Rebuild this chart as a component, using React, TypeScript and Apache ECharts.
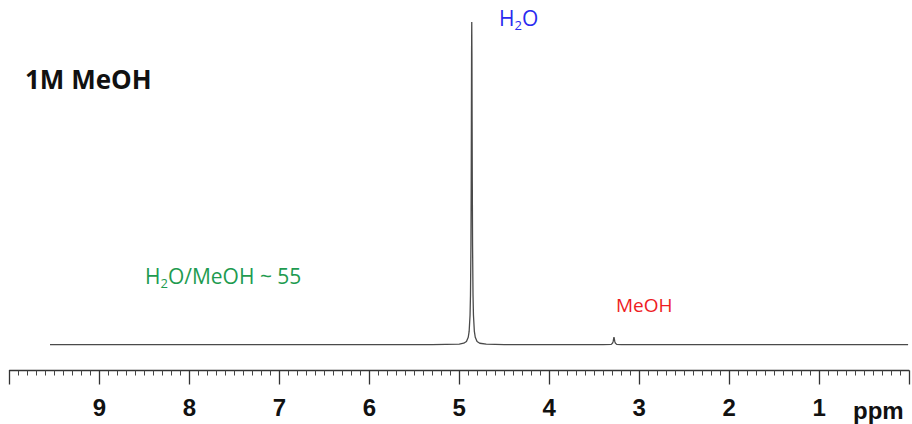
import React, { useEffect, useRef } from "react";
import * as echarts from "echarts";

// Chemical shift (ppm) and intensity (relative, H2O peak = 100)
const shiftPpm = [
  9.55, 5.3, 5.0, 4.95, 4.92, 4.9, 4.89, 4.88, 4.875, 4.87, 4.867, 4.865, 4.863,
  4.861, 4.859, 4.857, 4.855, 4.852, 4.847, 4.842, 4.832, 4.822, 4.802, 4.772,
  4.7, 4.5, 4.0, 3.4, 3.31, 3.295, 3.288, 3.284, 3.28, 3.276, 3.272, 3.265,
  3.25, 3.2, 2.0, 0.01,
];
const intensity = [
  0, 0, 0.2, 0.45, 1.0, 2.3, 4.1, 9.1, 15.5, 31, 50, 69, 90,
  100, 90, 69, 50, 31, 15.5, 9.1, 4.1, 2.3, 1.0, 0.45,
  0.15, 0, 0, 0, 0.1, 0.5, 1.1, 1.8, 2.3, 1.8, 1.1, 0.5,
  0.1, 0, 0, 0,
];
const tickLabels = ["1", "2", "3", "4", "5", "6", "7", "8", "9"];
const axisMin = 0;
const axisMax = 10;

export default function App() {
  const ref = useRef<HTMLDivElement>(null);
  useEffect(() => {
    if (!ref.current) return;
    const chart = echarts.init(ref.current, undefined, { renderer: "svg" });
    const data = shiftPpm.map((x, i) => [x, intensity[i]]);
    const annoFont = "'Open Sans', 'Noto Sans', sans-serif";
    chart.setOption({
      animation: false,
      backgroundColor: "#ffffff",
      grid: { left: 9.5, right: 2, top: 22, bottom: 53.5 },
      xAxis: {
        type: "value",
        min: axisMin,
        max: axisMax,
        interval: 1,
        inverse: true,
        splitLine: { show: false },
        axisLine: { show: true, onZero: false, lineStyle: { color: "#333", width: 1.3 } },
        axisTick: { show: true, length: 14, lineStyle: { color: "#333", width: 1.3 } },
        minorTick: { show: true, splitNumber: 10, length: 5, lineStyle: { color: "#444", width: 1 } },
        axisLabel: {
          margin: 25,
          fontSize: 24,
          fontWeight: "bold",
          fontFamily: "'Liberation Sans', Arial, sans-serif",
          color: "#111",
          formatter: (v: number) => (tickLabels.includes(String(v)) ? String(v) : ""),
        },
      },
      yAxis: { type: "value", min: -8, max: 100, show: false },
      series: [
        {
          type: "line",
          data,
          showSymbol: false,
          smooth: false,
          lineStyle: { color: "#4a4a4a", width: 1.3 },
        },
      ],
      graphic: [
        {
          type: "text",
          x: 25,
          y: 79,
          style: {
            text: "1M MeOH",
            font: `bold 26px ${annoFont}`,
            fill: "#111",
            verticalAlign: "middle",
          },
        },
        {
          type: "text",
          x: 853,
          y: 410,
          style: {
            text: "ppm",
            font: "bold 24px 'Liberation Sans', Arial, sans-serif",
            fill: "#111",
            verticalAlign: "middle",
          },
        },
        {
          type: "text",
          x: 499,
          y: 18,
          style: {
            text: "{a|H}{s|2}{a|O}",
            verticalAlign: "middle",
            rich: {
              a: { fontSize: 21, fontFamily: annoFont, fill: "#2a2af0" },
              s: { fontSize: 13, fontFamily: annoFont, fill: "#2a2af0", padding: [14, 0, 0, 0] },
            },
          },
        },
        {
          type: "text",
          x: 145,
          y: 276,
          style: {
            text: "{a|H}{s|2}{a|O/MeOH ~ 55}",
            verticalAlign: "middle",
            rich: {
              a: { fontSize: 21, fontFamily: annoFont, fill: "#1e9b50" },
              s: { fontSize: 13, fontFamily: annoFont, fill: "#1e9b50", padding: [13, 0, 0, 0] },
            },
          },
        },
        {
          type: "text",
          x: 616,
          y: 305,
          style: {
            text: "MeOH",
            font: `19px ${annoFont}`,
            fill: "#ee1c24",
            verticalAlign: "middle",
          },
        },
      ],
    });
    return () => chart.dispose();
  }, []);
  return (
    <div
      ref={ref}
      style={{ position: "absolute", left: 0, top: 0, width: 912, height: 424 }}
    />
  );
}
